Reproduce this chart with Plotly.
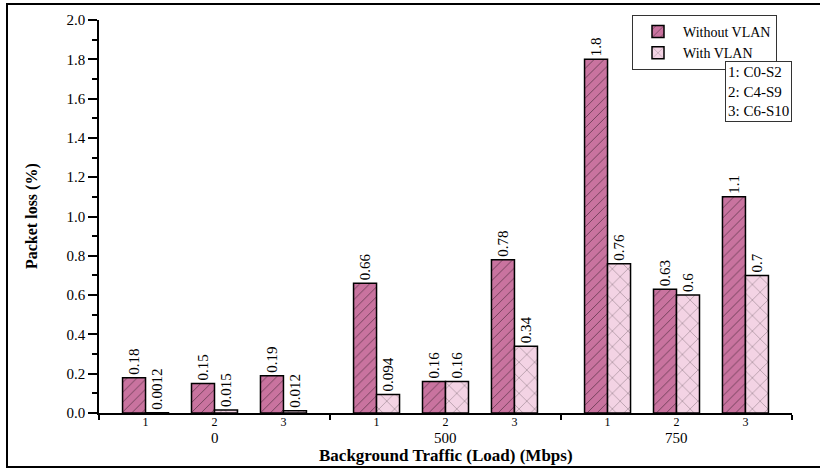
import plotly.graph_objects as go

# ---- data ----
groups = ["0", "500", "750"]
subcats = ["1", "2", "3"]
without_vlan = [0.18, 0.15, 0.19, 0.66, 0.16, 0.78, 1.8, 0.63, 1.1]
with_vlan = [0.0012, 0.015, 0.012, 0.094, 0.16, 0.34, 0.76, 0.6, 0.7]
legend_note = ["1: C0-S2", "2: C4-S9", "3: C6-S10"]

# ---- layout of category positions (group width in units of pair spacing) ----
GW = 3.35
xpos = []
for g in range(len(groups)):
    for k in range(len(subcats)):
        xpos.append(g * GW + (GW - 2) / 2 + k)
group_bounds = [g * GW for g in range(len(groups) + 1)]
group_centers = [g * GW + GW / 2 for g in range(len(groups))]

FONT = "Liberation Serif, Times New Roman, serif"
C1 = "#C9739F"
C2 = "#F3D3E4"

fig = go.Figure()
fig.add_trace(go.Bar(
    x=xpos, y=without_vlan, name="Without VLAN",
    marker=dict(color=C1, line=dict(color="black", width=1.5),
                pattern=dict(shape="/", fgcolor="black", size=7, solidity=0.12)),
    text=[str(v) for v in without_vlan], textposition="outside", textangle=-90,
    textfont=dict(family=FONT, size=15, color="black"),
    constraintext="none", cliponaxis=False,
))
fig.add_trace(go.Bar(
    x=xpos, y=with_vlan, name="With VLAN",
    marker=dict(color=C2, line=dict(color="black", width=1.5),
                pattern=dict(shape="x", fgcolor="black", size=11, solidity=0.08)),
    text=[str(v) for v in with_vlan], textposition="outside", textangle=-90,
    textfont=dict(family=FONT, size=15, color="black"),
    constraintext="none", cliponaxis=False,
))

L, R, T, B = 99, 28, 20, 57
W, H = 820, 470
pw, ph = W - L - R, H - T - B

def px2x(px):
    return (px - L) / pw

def py2y(py):
    return (H - B - py) / ph

fig.update_layout(
    width=W, height=H,
    margin=dict(l=L, r=R, t=T, b=B),
    plot_bgcolor="white", paper_bgcolor="white",
    barmode="group", bargap=0.333, bargroupgap=0,
    font=dict(family=FONT, color="black"),
    showlegend=True,
    legend=dict(x=px2x(632), y=py2y(15), xanchor="left", yanchor="top",
                bordercolor="#333", borderwidth=1, bgcolor="white",
                font=dict(family=FONT, size=14), tracegroupgap=0,
                itemwidth=40),
    xaxis=dict(range=[0, GW * len(groups)], tickmode="array", tickvals=xpos,
               ticktext=subcats * len(groups), ticks="outside", ticklen=0,
               ticklabelstandoff=-3,
               tickfont=dict(family=FONT, size=12), showline=True,
               linecolor="black", linewidth=1.5, showgrid=False, zeroline=False,
               minor=dict(tickmode="array", tickvals=group_bounds, ticks="outside",
                          ticklen=5, tickcolor="black", tickwidth=1.5)),
    yaxis=dict(range=[0, 2.0], dtick=0.2, tick0=0, tickformat=".1f",
               ticks="outside", ticklen=9, tickwidth=1.5, tickcolor="black",
               tickfont=dict(family=FONT, size=15), showline=True,
               linecolor="black", linewidth=1.5, showgrid=False, zeroline=False,
               minor=dict(dtick=0.1, ticks="outside", ticklen=5,
                          tickcolor="black", tickwidth=1.5)),
)

annotations = []
for gc, gl in zip(group_centers, groups):
    annotations.append(dict(x=gc, xref="x", y=py2y(438), yref="paper", text=gl,
                            showarrow=False, font=dict(family=FONT, size=15),
                            xanchor="center", yanchor="middle"))
annotations.append(dict(x=px2x(446), xref="paper", y=py2y(456), yref="paper",
                        text="<b>Background Traffic (Load) (Mbps)</b>",
                        showarrow=False, font=dict(family=FONT, size=17),
                        xanchor="center", yanchor="middle"))
annotations.append(dict(x=px2x(32), xref="paper", y=py2y(216), yref="paper",
                        text="<b>Packet loss (%)</b>", textangle=-90,
                        showarrow=False, font=dict(family=FONT, size=16),
                        xanchor="center", yanchor="middle"))
annotations.append(dict(x=px2x(725), xref="paper", y=py2y(61), yref="paper",
                        text="<br>".join(legend_note), align="left",
                        showarrow=False, font=dict(family=FONT, size=15),
                        xanchor="left", yanchor="top", bordercolor="#333",
                        borderwidth=1, borderpad=2, bgcolor="white"))
fig.update_layout(annotations=annotations)

fig.add_shape(type="rect", xref="paper", yref="paper",
              x0=px2x(7), x1=px2x(822), y0=py2y(467), y1=py2y(4),
              line=dict(color="black", width=2), fillcolor="rgba(0,0,0,0)",
              layer="above")

fig.write_html("out.html", config={"displayModeBar": False},
               post_script="document.body.style.margin='0';document.body.style.overflow='hidden';")
